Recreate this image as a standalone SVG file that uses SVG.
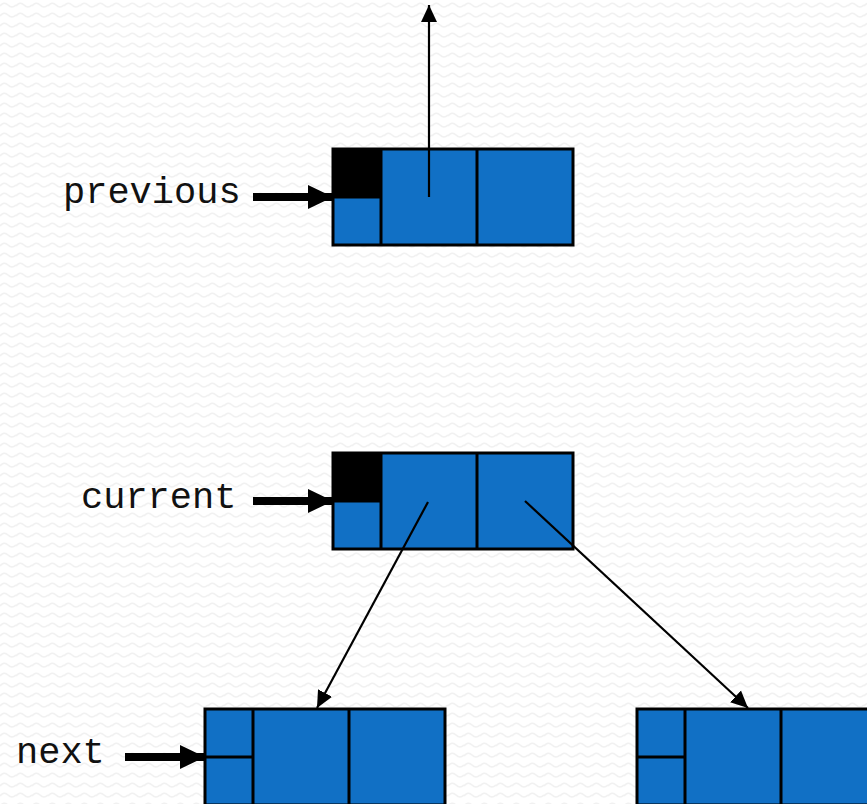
<svg xmlns="http://www.w3.org/2000/svg" width="867" height="804" viewBox="0 0 867 804">
<defs>
<pattern id="bg" width="16" height="10" patternUnits="userSpaceOnUse">
<rect width="16" height="10" fill="#ffffff"/>
<path d="M0 6 Q4 1 8 5 T16 5" fill="none" stroke="#f1f1f1" stroke-width="1.6"/>
</pattern>
<marker id="thin" markerUnits="userSpaceOnUse" markerWidth="18" markerHeight="18" viewBox="0 0 18 18" refX="17" refY="9" orient="auto">
<path d="M0 1 L17 9 L0 17 Z" fill="#000"/>
</marker>
<marker id="thick" markerUnits="userSpaceOnUse" markerWidth="26" markerHeight="24" viewBox="0 0 26 24" refX="25" refY="12" orient="auto">
<path d="M0 0 L25 12 L0 24 Z" fill="#000"/>
</marker>
</defs>
<style>
.cell{fill:#1170c5;stroke:#000;stroke-width:3}
.blk{fill:#000}
.lbl{font-family:"Liberation Mono","Courier New",monospace;font-size:37px;fill:#111}
.ln{stroke:#000;stroke-width:2.2;fill:none}
.dv{stroke:#000;stroke-width:3;fill:none}
.tk{stroke:#000;stroke-width:8;fill:none}
</style>
<rect width="867" height="804" fill="url(#bg)"/>

<g id="node-previous">
<rect class="cell" x="333" y="149" width="240" height="96"/>
<rect class="blk" x="333" y="149" width="48" height="48"/>
<line class="dv" x1="333" y1="197" x2="381" y2="197"/>
<line class="dv" x1="381" y1="149" x2="381" y2="245"/>
<line class="dv" x1="477" y1="149" x2="477" y2="245"/>
</g>

<g id="node-current">
<rect class="cell" x="333" y="453" width="240" height="96"/>
<rect class="blk" x="333" y="453" width="48" height="48"/>
<line class="dv" x1="333" y1="501" x2="381" y2="501"/>
<line class="dv" x1="381" y1="453" x2="381" y2="549"/>
<line class="dv" x1="477" y1="453" x2="477" y2="549"/>
</g>

<g id="node-next">
<rect class="cell" x="205" y="709" width="240" height="96"/>
<line class="dv" x1="205" y1="757" x2="253" y2="757"/>
<line class="dv" x1="253" y1="709" x2="253" y2="805"/>
<line class="dv" x1="349" y1="709" x2="349" y2="805"/>
</g>

<g id="node-right">
<rect class="cell" x="637" y="709" width="240" height="96"/>
<line class="dv" x1="637" y1="757" x2="685" y2="757"/>
<line class="dv" x1="685" y1="709" x2="685" y2="805"/>
<line class="dv" x1="781" y1="709" x2="781" y2="805"/>
</g>

<g id="labels">
<text class="lbl" x="63" y="203">previous</text>
<text class="lbl" x="81" y="508">current</text>
<text class="lbl" x="16" y="763">next</text>
</g>

<g id="connectors">
<line class="ln" x1="429" y1="197" x2="429" y2="5" marker-end="url(#thin)"/>
<line class="ln" x1="428" y1="502" x2="317" y2="708" marker-end="url(#thin)"/>
<line class="ln" x1="525" y1="501" x2="748" y2="708" marker-end="url(#thin)"/>
<line class="tk" x1="253" y1="197" x2="333" y2="197" marker-end="url(#thick)"/>
<line class="tk" x1="253" y1="501" x2="333" y2="501" marker-end="url(#thick)"/>
<line class="tk" x1="125" y1="757" x2="205" y2="757" marker-end="url(#thick)"/>
</g>
</svg>
